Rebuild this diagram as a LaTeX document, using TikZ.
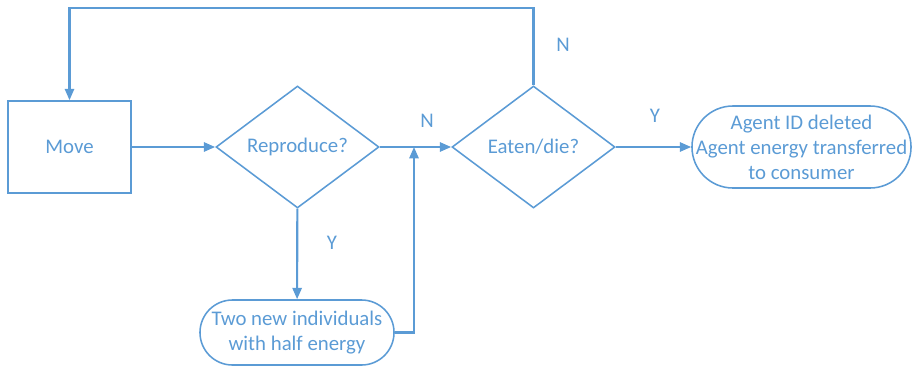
\documentclass[tikz,border=0pt]{standalone}
\usepackage{fontspec}
\setmainfont{Carlito}
\usetikzlibrary{positioning}
\usetikzlibrary{shapes.geometric}
\usetikzlibrary{arrows.meta}
\definecolor{flow-blue}{RGB}{91, 155, 213}

\begin{document}
\begin{tikzpicture}[x=0.025cm, y=-0.025cm,
    font=\fontsize{14.8}{17.7}\selectfont,
    shape-line/.style={draw=flow-blue, line width=1.1pt, text=flow-blue, align=center, inner sep=0pt},
    process/.style={shape-line, rectangle, minimum width=3.075cm, minimum height=2.3cm},
    decision/.style={shape-line, diamond, aspect=1.336, minimum width=4.075cm, minimum height=3.05cm},
    terminal/.style={shape-line, rectangle, rounded corners=#1},
    flow/.style={draw=flow-blue, line width=1.5pt, -{Triangle[length=8pt,width=6.5pt]}},
    answer/.style={text=flow-blue}]
\useasboundingbox (0,0) rectangle (912,368);

\node[process] (move) at (69.5,147) {Move};
\node[decision] (repro) at (297.5,147) {Reproduce?};
\node[decision] (eaten) at (533.5,147) {Eaten/die?};
\node[terminal=1.025cm, minimum width=5.475cm, minimum height=2.05cm] (dead) at (801.5,147)
    {Agent ID deleted\\Agent energy transferred\\to consumer};
\node[terminal=0.8125cm, minimum width=4.85cm, minimum height=1.625cm] (split) at (297,332.5)
    {Two new individuals\\with half energy};

\coordinate (join) at (414,147);
\coordinate (top) at (533.5,8);

\draw[flow] (move) -- (repro);
\draw[flow] (repro) -- (eaten);
\draw[flow] (repro) -- (split);
\draw[flow] (split.east) -| (join);
\draw[flow] (eaten) -- (dead);
\draw[flow] (eaten.north) -- (top) -| (move.north);

\node[answer] (n-repro) at (427,121) {N};
\node[answer] (y-repro) at (332,243) {Y};
\node[answer] (n-eaten) at (563,45) {N};
\node[answer] (y-eaten) at (655,116) {Y};
\end{tikzpicture}
\end{document}
